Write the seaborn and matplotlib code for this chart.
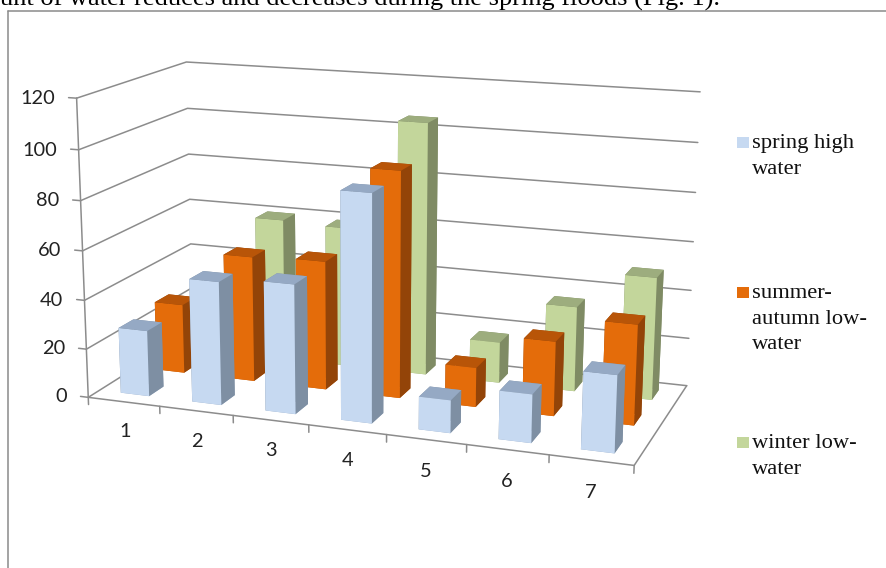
import numpy as np
import matplotlib
matplotlib.use("Agg")
import matplotlib.pyplot as plt
from matplotlib.lines import Line2D
from matplotlib.patches import Rectangle
import seaborn as sns

sns.set_theme(style="white")
plt.rcParams["font.family"] = ["Lato", "DejaVu Sans"]

W, H = 886, 568

categories = ["1", "2", "3", "4", "5", "6", "7"]
series_names = ["spring high\nwater", "summer-\nautumn low-\nwater", "winter low-\nwater"]
spring_high = [27, 50, 52, 90, 13, 19, 30]
summer_autumn_low = [29, 52, 53, 92, 16, 30, 40]
winter_low = [18, 60, 59, 105, 17, 35, 50]
value_ticks = [0, 20, 40, 60, 80, 100, 120]

front_colors = sns.color_palette(["#C6D9F1", "#E46C0A", "#C3D69B"])
top_colors = sns.color_palette(["#95A9C4", "#B85508", "#9DAD7E"])
side_colors = sns.color_palette(["#7E8FA3", "#934408", "#7F8B64"])
GRID = "#8c8c8c"
LABEL = "#222222"

# Camera calibration: world corners of the chart box and where they land on the canvas.
world_pts = np.array([[0, 0, 0], [7, 0, 0], [7, 3, 0], [0, 3, 0],
                      [0, 0, 120], [0, 3, 120], [7, 3, 120]], float)
pixel_pts = np.array([[89, 397], [634, 466], [687, 385], [192, 332],
                      [76, 98], [187, 62], [700, 92]], float)


def fit_camera(world, pixel):
    rows, rhs = [], []
    for (x, y, z), (u, v) in zip(world, pixel):
        rows.append([x, y, z, 1, 0, 0, 0, 0, -u * x, -u * y, -u * z])
        rows.append([0, 0, 0, 0, x, y, z, 1, -v * x, -v * y, -v * z])
        rhs += [u, v]
    p = np.linalg.lstsq(np.array(rows), np.array(rhs), rcond=None)[0]
    return np.append(p, 1.0).reshape(3, 4)


CAM = fit_camera(world_pts, pixel_pts)

fig = plt.figure(figsize=(W / 100, H / 100), dpi=100, facecolor="white")
ax = fig.add_axes([0, 0, 1, 1], projection="3d", computed_zorder=False)
ax.set_axis_off()
ax.patch.set_alpha(0)
ax.apply_aspect = lambda position=None: None


def camera_matrix():
    # Maps data coordinates straight to the 2D limits of the 3D axes.
    # The third row is a depth that stays negative everywhere in the box.
    x0, x1 = ax.viewLim.intervalx
    y0, y1 = ax.viewLim.intervaly
    sx, sy = (x1 - x0) / W, (y1 - y0) / H
    u, v, w = CAM
    return np.array([x0 * w + sx * u,
                     (y0 + H * sy) * w - sy * v,
                     [-1 / 7, 1 / 3, -1 / 120, -4.0],
                     w])


ax.get_proj = camera_matrix


def line3(xs, ys, zs):
    ax.plot(xs, ys, zs, color=GRID, lw=1.1, zorder=1, solid_capstyle="round")


def label3(x, y, z, s, **kw):
    # Text placed at a projected world position, in figure coordinates.
    u, v, w = CAM @ np.array([x, y, z, 1.0])
    fig.text(u / w / W, 1 - v / w / H, s, va="center", fontsize=14.4, color=LABEL, **kw)


# Walls and floor
for v in value_ticks:
    line3([0, 0, 7], [0, 3, 3], [v, v, v])
    line3([0, -0.11], [0, 0], [v, v])
    label3(-0.3, 0, v - 0.8, str(v), ha="right")
line3([0, 0], [0, 0], [0, 120])
line3([0, 7, 7], [0, 0, 3], [0, 0, 0])
for i in range(8):
    line3([i, i], [0, 0], [0, -3])
for i, c in enumerate(categories):
    label3(i + 0.5, 0, -12.5, c, ha="center")

# Bars, painted from the back row forward and left to right
bar_w, bar_d = 0.4, 0.4
series = [spring_high, summer_autumn_low, winter_low]
order = 10
for s in [2, 1, 0]:
    # bar3d face order: bottom, top, front, back, left, right
    face = [top_colors[s], top_colors[s], front_colors[s], side_colors[s],
            side_colors[s], side_colors[s]]
    for i, val in enumerate(series[s]):
        ax.bar3d(i + (1 - bar_w) / 2, s + (1 - bar_d) / 2, 0, bar_w, bar_d, val,
                 color=face, shade=False, zorder=order, linewidth=0)
        order += 1

# Series key
key_y = [142, 292, 442]
line_gap = 25.7
for name, col, y in zip(series_names, front_colors, key_y):
    fig.add_artist(Rectangle((737 / W, 1 - (y + 6) / H), 11.5 / W, 11.5 / H,
                             transform=fig.transFigure, facecolor=col, edgecolor="none"))
    for k, part in enumerate(name.split("\n")):
        fig.text(752 / W, 1 - (y + k * line_gap + 1.5) / H, part, ha="left", va="center",
                 family="Liberation Serif", fontsize=16.2, color="#111111")

# Frame around the chart, and the line of body text above it
frame = dict(color="#8a8a8a", lw=1.1, transform=fig.transFigure)
fig.add_artist(Line2D([8 / W, 8 / W], [0, 1 - 11 / H], **frame))
fig.add_artist(Line2D([8 / W, 1], [1 - 11 / H, 1 - 11 / H], **frame))
fig.text(0.5 / W, 1 - 5.5 / H, "unt of water reduces and decreases during the spring floods (Fig. 1).",
         ha="left", va="baseline", family="Liberation Serif", fontsize=19, color="black")

fig.savefig("out.png", dpi=100)
